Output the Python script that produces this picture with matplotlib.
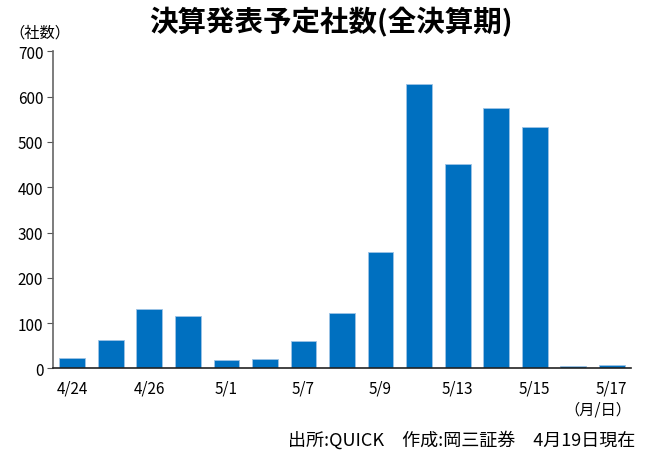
import matplotlib
matplotlib.use('Agg')
import matplotlib.pyplot as plt
import numpy as np

plt.rcParams['font.family'] = ['Noto Sans CJK JP', 'DejaVu Sans']

dates = ['4/24', '4/25', '4/26', '4/30', '5/1', '5/2', '5/7', '5/8',
         '5/9', '5/10', '5/13', '5/14', '5/15', '5/16', '5/17']
counts = [22, 62, 131, 116, 18, 20, 61, 123, 257, 627, 452, 576, 534, 5, 8]
yticks = [0, 100, 200, 300, 400, 500, 600, 700]

fig = plt.figure(figsize=(6.48, 4.56), dpi=100)
ax = fig.add_axes([0.0818, 0.19, 0.892, 0.695])

x = np.arange(len(dates))
ax.bar(x, counts, width=0.67, color='#0070C0', edgecolor='#9DC3E6', linewidth=0.6)

ax.set_xlim(-0.5, len(dates) - 0.5)
ax.set_ylim(0, 700)
ax.set_yticks(yticks)
ax.set_yticklabels([str(v) for v in yticks], fontsize=11)
ax.set_xticks(x[::2])
ax.set_xticklabels(dates[::2], fontsize=11)
ax.tick_params(axis='x', length=0, pad=8)
ax.tick_params(axis='y', length=4, width=0.8, color='#555555', pad=3, direction='out')

for s in ['top', 'right']:
    ax.spines[s].set_visible(False)
ax.spines['left'].set_color('#666666')
ax.spines['left'].set_linewidth(1.2)
ax.spines['bottom'].set_color('#222222')
ax.spines['bottom'].set_linewidth(1.2)

fig.text(0.51, 0.95, '決算発表予定社数(全決算期)', ha='center', va='center',
         fontsize=20.5, fontweight='bold')
fig.text(0.062, 0.928, '（社数）', ha='center', va='center', fontsize=11)
fig.text(0.975, 0.10, '（月/日）', ha='right', va='center', fontsize=11)
fig.text(0.98, 0.035, '出所:QUICK　作成:岡三証券　4月19日現在', ha='right', va='center', fontsize=13)

fig.savefig('out.png', dpi=100)
